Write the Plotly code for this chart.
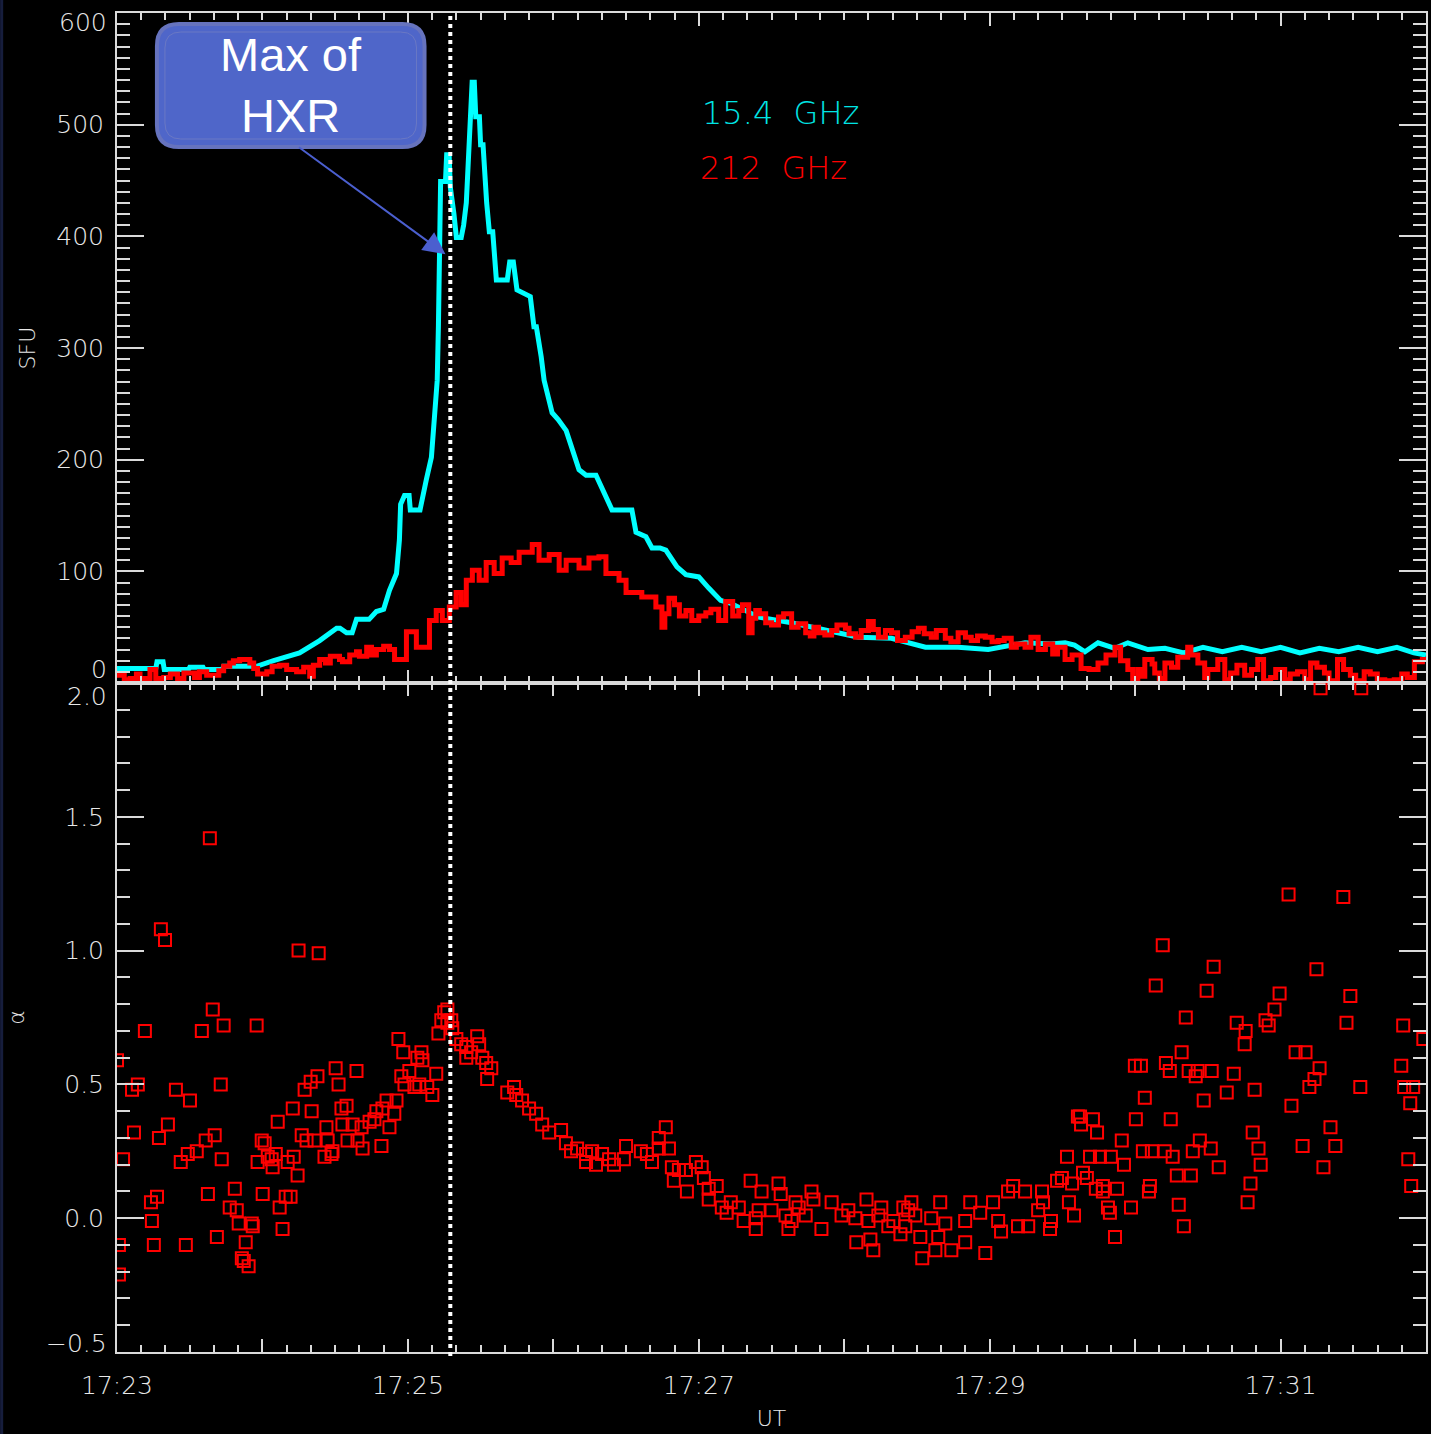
import plotly.graph_objects as go

# ---------------- data (time in seconds after 17:23:00 UT) ----------------
t_cyan = [0, 16, 16.5, 19, 19.5, 29.5, 30, 35.5, 36, 43.5, 44, 57.6, 64.6, 75.3, 83.6, 88, 90.6, 92,
          94.7, 97, 98.8, 104, 107, 110, 112.4, 115.3, 116.5, 117, 118.6, 120.5, 121, 125, 126.5,
          127.6, 129.7, 130.9, 132.1, 132.6, 133.5, 135.5, 136, 137, 137.5, 139, 140, 142, 143,
          144.1, 144.9, 145.7, 146.5, 147.4, 148, 149.5, 150, 151, 151.5, 152.5, 153.6, 155, 156.5,
          161, 162, 163.5, 165, 170.5, 172, 173, 175, 176.2, 179.5, 182, 185.3, 190.6, 193.5, 197.6,
          204.2, 212.4, 214.1, 218.2, 220.7, 224, 226.4, 229, 231, 234.7, 240, 244.1, 249, 253.6,
          264.7, 278.3, 289.4, 305.9, 319.5, 333.5, 347, 359.4, 374.6, 385.3, 391.1, 395, 399.3,
          404.7, 411.7, 417, 425.3, 432.3, 440, 448, 456, 464, 472, 480, 488, 496, 504, 512, 520,
          528, 535, 540]
flux_cyan = [13, 13, 19, 19, 12, 12, 14, 14, 12, 12, 15, 15, 20, 27, 38, 45, 49, 49,
             45, 45, 57, 57, 64, 66, 83, 98, 128, 160, 168, 168, 155, 155, 173,
             182, 202, 233, 271, 320, 449, 449, 473, 473, 444, 420, 399, 399, 410,
             430, 470, 511, 538, 538, 507, 507, 482, 482, 458, 430, 404, 404, 361,
             361, 377, 377, 352, 346, 319, 319, 292, 271, 242, 236, 226, 191, 186, 186,
             155, 155, 135, 131, 121, 121, 119, 110, 104, 97, 95, 85, 74, 71,
             59, 54, 49, 41, 40, 32, 32, 30, 36, 35, 36, 34, 28,
             36, 31, 36, 30, 31, 27, 32, 28, 32, 28, 32, 27, 31, 28, 32, 28,
             32, 27, 25]

t_red = [0, 3, 5.4, 8, 9.5, 11.5, 13.6, 16, 19.3, 22, 25, 27.6, 32, 34, 37, 42, 44, 46.5, 48, 50.6,
         54.8, 56.4, 58, 61.8, 64, 67.1, 70, 74.1, 77, 79.5, 81, 83.6, 86, 88, 91.8, 93, 96, 98.8,
         100, 103, 105, 107, 110, 112.4, 114.5, 116.5, 119.4, 123.5, 128.9, 131.7, 134.2, 137.1,
         139.9, 142, 144.1, 146.6, 149.4, 152.3, 155.6, 158.9, 162.6, 165.9, 171.3, 174.1, 178.3,
         182.4, 185.3, 190.6, 194.7, 198.8, 201.7, 207.1, 210, 216.5, 222.3, 224.8, 226, 227.7, 230,
         232, 234.7, 237.1, 240, 242.9, 245, 248.2, 251.1, 254, 256.5, 258, 260.6, 262, 263.5, 265,
         267.6, 270, 272.9, 275, 278.3, 281, 284.1, 286, 287.5, 289.4, 292, 294.8, 297, 300.5, 302,
         304.7, 307, 310, 312, 314.1, 317, 319.5, 322, 325.2, 328, 330.6, 333, 335.9, 338, 341.7,
         344, 347, 350, 352.4, 355, 358.2, 361, 363.5, 366, 368.9, 371, 374.6, 377, 380, 383, 386,
         388, 391.1, 394, 397.7, 401, 404.7, 408, 411.7, 414, 417, 419, 421.1, 422, 424, 427,
         428.1, 430, 432.3, 435, 437.6, 441.7, 443, 445.9, 448.7, 450, 454.1, 457, 459.4, 462,
         465.2, 468, 470.6, 473, 475.9, 478, 481.7, 484, 487, 490, 492.4, 495, 498.1, 500, 503.5,
         506, 508.8, 511, 514.5, 517, 519.9, 523, 526.9, 530, 532.3, 535.2, 538.5, 540]
flux_red = [7, 3, 4, 8, 0, 4, 12, 4, 5, 8, 4, 9, 5, 10, 7, 11, 15, 18, 20, 21,
            18, 13, 8, 10, 15, 16, 12, 10, 14, 6, 16, 21, 18, 24, 21, 19, 25, 28,
            24, 32, 25, 30, 33, 30, 21, 21, 46, 32, 56, 65, 56, 68,
            81, 70, 92, 101, 92, 108, 98, 112, 108, 117, 124, 110, 115,
            101, 110, 103, 112, 113, 98, 92, 81, 77, 68, 50, 62, 76, 70,
            60, 65, 56, 60, 63, 66, 56, 73, 60, 65, 70, 45, 58, 65, 62,
            54, 52, 59, 62, 50, 53, 45, 42, 50, 45, 43, 47, 52, 49, 44,
            41, 47, 55, 48, 41, 47, 45, 38, 41, 46, 49, 44, 41, 47, 40,
            37, 45, 41, 38, 42, 41, 37, 38, 40, 32, 35, 32, 41, 30, 35, 26,
            32, 21, 25, 13, 12, 18, 25, 32, 20, 12, 0, 12, 6, 21, 17,
            9, 4, 18, 14, 23, 32, 25, 18, 5, 12, 21, 3, 9, 16,
            7, 12, 21, 2, 5, 12, 3, 8, 10, 3, 18, 14, 9, 2, 21,
            12, 7, 2, 10, 8, 3, 2, 3, 8, 5, 19, 21, 21]

t_alpha = [0, 0.8, 0.8, 2.5, 6.2, 7.0, 8.6, 11.5, 14.0, 14.4, 15.2, 16.5, 17.3, 18.1, 19.8, 21.0,
           24.3, 26.3, 28.4, 29.2, 30.1, 32.9, 35.0, 36.6, 37.5, 38.3, 39.5, 40.3, 41.2, 42.8, 43.2,
           44.0, 46.5, 48.6, 49.4, 50.2, 51.5, 52.3, 53.1, 54.3, 55.6, 56.0, 57.6, 58.0, 59.7, 60.1,
           60.9, 62.2, 63.8, 64.2, 65.5, 66.3, 67.1, 68.3, 69.6, 70.4, 71.6, 72.5, 72.9, 74.5, 74.9,
           76.2, 77.4, 78.2, 79.9, 80.3, 81.5, 82.7, 83.2, 85.6, 86.4, 86.9, 88.5, 88.9, 90.2, 91.4,
           92.6, 93.0, 94.7, 95.1, 97.2, 98.8, 99.2, 100.9, 101.3, 104.2, 106.2, 107.0, 109.1, 109.5,
           111.2, 112.4, 114.4, 115.3,
           116.1, 117.3, 118.1, 118.6, 120.6, 122.7, 123.9, 124.7, 125.6, 126.0, 128.0, 130.1, 131.7,
           132.6, 133.8, 135.0, 136.3, 136.3, 137.9, 138.3, 140.0, 142.0, 144.1, 144.1, 146.1, 148.6,
           149.4, 150.7, 152.3, 152.7, 154.4,
           161.0, 163.8, 164.7, 167.1, 170.0, 172.9, 175.4, 178.3, 183.2, 185.2, 187.3, 189.8, 193.5,
           193.5, 196.0, 197.6, 200.1, 203.0, 205.0, 209.1, 210.0, 216.1, 218.6, 220.7, 223.5, 223.5,
           226.4, 227.7, 228.9, 229.7, 231.8, 234.7, 235.1, 238.8, 241.2, 242.1, 244.1, 244.1, 247.4,
           249.5, 251.5, 253.2, 256.5, 258.5, 261.4, 263.5, 263.5, 264.7, 265.9, 270.0, 272.9, 273.8,
           275.8, 277.0, 278.3, 279.9, 281.2, 284.1, 286.5, 287.3, 290.6, 294.8, 298.9, 301.7, 304.6,
           305.0, 309.2, 310.0, 310.8, 312.0, 314.1, 315.3, 318.2, 320.3, 323.2, 324.4, 325.2, 326.4,
           327.7, 329.3,
           331.4, 332.2, 335.9, 337.6, 338.8, 339.6, 341.7, 344.2, 349.9, 349.9, 352.0, 356.1, 358.2,
           361.4, 363.5, 364.7, 367.6, 369.7, 371.7, 374.6, 375.9, 380.0, 381.6, 382.0, 384.9, 385.3,
           387.8, 389.8, 391.9, 392.7, 394.0, 394.8, 396.4, 397.3, 397.7, 398.5, 400.1,
           401.4, 402.6, 403.8, 404.3, 405.5, 406.7, 406.7, 408.8, 409.6, 410.0, 411.7, 412.5, 414.5,
           415.4, 418.3, 419.9, 420.3, 422.4, 423.2, 424.0, 425.7, 426.1, 426.9, 428.5, 431.4, 432.2,
           432.7, 434.3, 434.7, 435.5, 437.2, 438.0, 439.2, 440.1, 440.9, 442.1, 443.0, 443.8, 445.0,
           445.8, 446.7, 448.3, 449.5, 451.2, 451.6, 452.4, 454.5, 457.8, 460.7, 461.9, 465.2, 465.6,
           466.4, 467.6, 468.5, 469.3, 470.9, 471.8, 473.8, 475.1, 477.5, 479.6, 483.3, 484.5, 486.2,
           489.1, 490.3, 491.9, 494.0, 494.8, 496.1, 496.5, 497.7, 500.6, 502.6, 505.9, 507.2, 508.8,
           512.9, 513.3, 529.8, 530.6, 531.0, 532.7, 533.5, 533.9, 534.7, 538.9]
alpha_vals = [0.59, -0.10, -0.21, 0.22, 0.48, 0.32, 0.50, 0.70, 0.06, -0.01, -0.10, 0.08, 0.30, 1.08, 1.04, 0.35,
              0.48, 0.21, -0.10, 0.24, 0.44, 0.25, 0.70, 0.29, 0.09, 1.42, 0.78, 0.31, -0.07, 0.50, 0.22,
              0.72, 0.04, 0.11, 0.03, -0.02, -0.15, -0.16, -0.09, -0.18, -0.02, -0.03, 0.72, 0.21, 0.29, 0.09,
              0.28, 0.23, 0.22, 0.19, 0.24, 0.36, 0.04, -0.04, 0.08, 0.21, 0.08, 0.41, 0.23, 0.16, 1.00,
              0.31, 0.48, 0.29, 0.51, 0.40, 0.29, 0.53, 0.99, 0.23, 0.34, 0.29, 0.24, 0.25, 0.56, 0.50,
              0.41, 0.35, 0.42, 0.29, 0.35, 0.55, 0.29, 0.34, 0.26, 0.36, 0.37, 0.40, 0.27, 0.41,
              0.44, 0.34, 0.39, 0.44,
              0.67, 0.53, 0.62, 0.50, 0.55, 0.49, 0.60, 0.50, 0.62, 0.59, 0.49, 0.46, 0.54,
              0.69, 0.74, 0.77, 0.78, 0.73, 0.74, 0.71, 0.67, 0.65, 0.64, 0.60, 0.62, 0.68,
              0.65, 0.60, 0.58, 0.52, 0.56,
              0.47, 0.49, 0.46, 0.44, 0.41, 0.39, 0.35, 0.32, 0.33, 0.28, 0.25, 0.26, 0.24,
              0.21, 0.25, 0.20, 0.24, 0.22, 0.20, 0.22, 0.27, 0.25, 0.24, 0.21, 0.30, 0.26,
              0.34, 0.26, 0.19, 0.14, 0.18, 0.18, 0.10, 0.21, 0.19, 0.15, 0.11, 0.07, 0.12,
              0.04, 0.02, 0.06, 0.04, -0.01, 0.14, 0.00, -0.04, 0.03, 0.10, 0.03, 0.13, 0.09,
              0.01, -0.04, -0.01, 0.06, 0.04, 0.01, 0.10, 0.07, -0.04, 0.06, 0.01, 0.03, 0.00,
              -0.09, 0.07, -0.01, -0.08, -0.12, 0.01, 0.04, -0.03, -0.01, -0.06, 0.04, -0.03, 0.03,
              0.06, 0.01,
              -0.07, -0.15, 0.00, -0.12, -0.07, 0.06, -0.02, -0.12, -0.01, -0.09, 0.06, 0.02, -0.13,
              0.06, -0.01, -0.05, 0.10, 0.12, -0.03, 0.10, -0.03, 0.03, 0.10, 0.06, -0.04, -0.01,
              0.14, 0.15, 0.23, 0.06, 0.13, 0.01, 0.38, 0.38, 0.35, 0.17, 0.15,
              0.23, 0.37, 0.11, 0.32, 0.23, 0.12, 0.10, 0.04, 0.02, 0.23, -0.07, 0.11, 0.29,
              0.20, 0.04, 0.57, 0.37, 0.57, 0.25, 0.45, 0.10, 0.12, 0.25, 0.87, 1.02, 0.25,
              0.58, 0.55, 0.37, 0.23, 0.16, 0.05, 0.62, -0.03, 0.75, 0.55, 0.16, 0.25, 0.53,
              0.55, 0.29, 0.44, 0.85, 0.26, 0.55, 0.94, 0.19, 0.47, 0.54, 0.73, 0.65, 0.70,
              0.06, 0.13, 0.32, 0.48, 0.26, 0.20, 0.74, 0.72, 0.78, 0.84, 1.21, 0.42, 0.62,
              0.27, 0.62, 0.49, 0.52, 0.93, 0.56, 1.98, 0.19, 0.34, 0.27, 1.20, 0.73, 0.83,
              0.49, 1.98, 0.57, 0.72, 0.49, 0.22, 0.43, 0.12, 0.49, 0.67]

hxr_max_t = 137.5        # 17:25:17.5 UT
x_tick_vals = [0, 60, 120, 180, 240, 300, 360, 420, 480, 540]
x_tick_text = ["17:23", "", "17:25", "", "17:27", "", "17:29", "", "17:31", ""]
sfu_tick_vals = [0, 100, 200, 300, 400, 500, 600]
sfu_tick_text = ["", "100", "200", "300", "400", "500", ""]
alpha_tick_vals = [-0.5, 0.0, 0.5, 1.0, 1.5, 2.0]
alpha_tick_text = ["", "0.0", "0.5", "1.0", "1.5", ""]

# ---------------- geometry helpers (pixel -> paper) ----------------
W, H = 1431, 1434
ML, MR, MT, MB = 117, 3, 13, 82
PW, PH = W - ML - MR, H - MT - MB
def px(x):
    return (x - ML) / PW
def py(y):
    return (MT + PH - y) / PH
split = py(683)

AX = "#dadada"
TXT = "#e8e8e8"
TICKFONT = dict(family="DejaVu Sans", size=25, color=TXT, weight=200)
TITLEFONT = dict(family="DejaVu Sans", size=22, color=TXT, weight=200)

fig = go.Figure()
fig.add_trace(go.Scatter(x=t_cyan, y=flux_cyan, mode="lines", line=dict(color="#00ffff", width=5),
                         xaxis="x", yaxis="y", showlegend=False))
fig.add_trace(go.Scatter(x=t_red, y=flux_red, mode="lines", line=dict(color="#ff0000", width=5, shape="hv"),
                         xaxis="x", yaxis="y", showlegend=False))
fig.add_trace(go.Scatter(x=t_alpha, y=alpha_vals, mode="markers",
                         marker=dict(symbol="square-open", size=12, color="#ff0000", line=dict(width=2, color="#ff0000")),
                         xaxis="x2", yaxis="y2", showlegend=False, cliponaxis=True))

common = dict(showline=True, linecolor=AX, linewidth=2, mirror="ticks", ticks="inside",
              tickcolor=AX, tickwidth=2, showgrid=False, zeroline=False, tickfont=TICKFONT)
xcommon = dict(common, range=[0, 540], tickmode="array", tickvals=x_tick_vals, ticktext=x_tick_text,
               ticklen=13, minor=dict(tickmode="linear", tick0=0, dtick=10, ticks="inside", ticklen=7,
                                      tickcolor=AX, tickwidth=2, showgrid=False))

fig.update_layout(
    width=W, height=H, paper_bgcolor="black", plot_bgcolor="black",
    margin=dict(l=ML, r=MR, t=MT, b=MB),
    xaxis=dict(xcommon, domain=[0, 1], anchor="y", showticklabels=False),
    yaxis=dict(common, domain=[split, 1], anchor="x", range=[0, 600], tickmode="array",
               tickvals=sfu_tick_vals, ticktext=sfu_tick_text, ticklen=27, ticklabelstandoff=6,
               minor=dict(tickmode="linear", tick0=0, dtick=10, ticks="inside", ticklen=13,
                          tickcolor=AX, tickwidth=2, showgrid=False),
               title=dict(text="SFU", font=TITLEFONT, standoff=15)),
    xaxis2=dict(xcommon, domain=[0, 1], anchor="y2", ticklabelstandoff=10,
                title=dict(text="UT", font=TITLEFONT, standoff=12)),
    yaxis2=dict(common, domain=[0, split], anchor="x2", range=[-0.5, 2.0], tickmode="array",
                tickvals=alpha_tick_vals, ticktext=alpha_tick_text, ticklen=27, ticklabelstandoff=6,
                minor=dict(tickmode="linear", tick0=-0.5, dtick=0.1, ticks="inside", ticklen=13,
                           tickcolor=AX, tickwidth=2, showgrid=False),
                title=dict(text="α", font=TITLEFONT, standoff=34)),
)

# end tick labels that IDL nudges inward
end_labels = [("600", 23), ("0", 669), ("2.0", 696), ("\u22120.5", 1343)]
for txt, ypix in end_labels:
    fig.add_annotation(text=txt, xref="paper", yref="paper", x=px(109), y=py(ypix), xanchor="right",
                       yanchor="middle", showarrow=False, font=TICKFONT)

# frequency labels
fig.add_annotation(text="15.4  GHz", xref="paper", yref="paper", x=px(701), y=py(113), xanchor="left",
                   yanchor="middle", showarrow=False, font=dict(family="DejaVu Sans", size=32, color="#00e5e5", weight=200))
fig.add_annotation(text="212  GHz", xref="paper", yref="paper", x=px(699), y=py(168), xanchor="left",
                   yanchor="middle", showarrow=False, font=dict(family="DejaVu Sans", size=32, color="#ff0000", weight=200))

# dotted vertical line at HXR maximum
fig.add_shape(type="line", xref="x", yref="paper", x0=hxr_max_t, x1=hxr_max_t, y0=py(1356), y1=py(15),
              line=dict(color="white", width=4, dash="4px,4px"))

# rounded callout box
x0, x1, y0, y1, r = 157, 425, 24, 147, 22
def rr(xa, xb, ya, yb, rad):
    return (f"M {px(xa+rad)},{py(ya)} L {px(xb-rad)},{py(ya)} Q {px(xb)},{py(ya)} {px(xb)},{py(ya+rad)} "
            f"L {px(xb)},{py(yb-rad)} Q {px(xb)},{py(yb)} {px(xb-rad)},{py(yb)} "
            f"L {px(xa+rad)},{py(yb)} Q {px(xa)},{py(yb)} {px(xa)},{py(yb-rad)} "
            f"L {px(xa)},{py(ya+rad)} Q {px(xa)},{py(ya)} {px(xa+rad)},{py(ya)} Z")
fig.add_shape(type="path", xref="paper", yref="paper", path=rr(x0, x1, y0, y1, r),
              fillcolor="#4f66c9", line=dict(color="#6673be", width=4))
fig.add_shape(type="path", xref="paper", yref="paper", path=rr(x0 + 8, x1 - 8, y0 + 8, y1 - 8, r - 6),
              fillcolor="rgba(0,0,0,0)", line=dict(color="#6a78c4", width=1))
fig.add_annotation(text="Max of<br>HXR", xref="paper", yref="paper", x=px(291), y=py(85), xanchor="center",
                   yanchor="middle", showarrow=False,
                   font=dict(family="Liberation Sans", size=47, color="white"))
# arrow pointing at the HXR maximum
fig.add_annotation(text="", xref="x", yref="y", x=135.5, y=384, ax=-148, ay=-108, showarrow=True,
                   arrowhead=2, arrowsize=2.2, arrowwidth=2, arrowcolor="#4b5fcf")

# slide edge
fig.add_shape(type="rect", xref="paper", yref="paper", x0=px(0), x1=px(3), y0=py(H), y1=py(0),
              fillcolor="#161d3c", line=dict(width=0), layer="below")

fig.write_html("out.html", config={"displayModeBar": False})
